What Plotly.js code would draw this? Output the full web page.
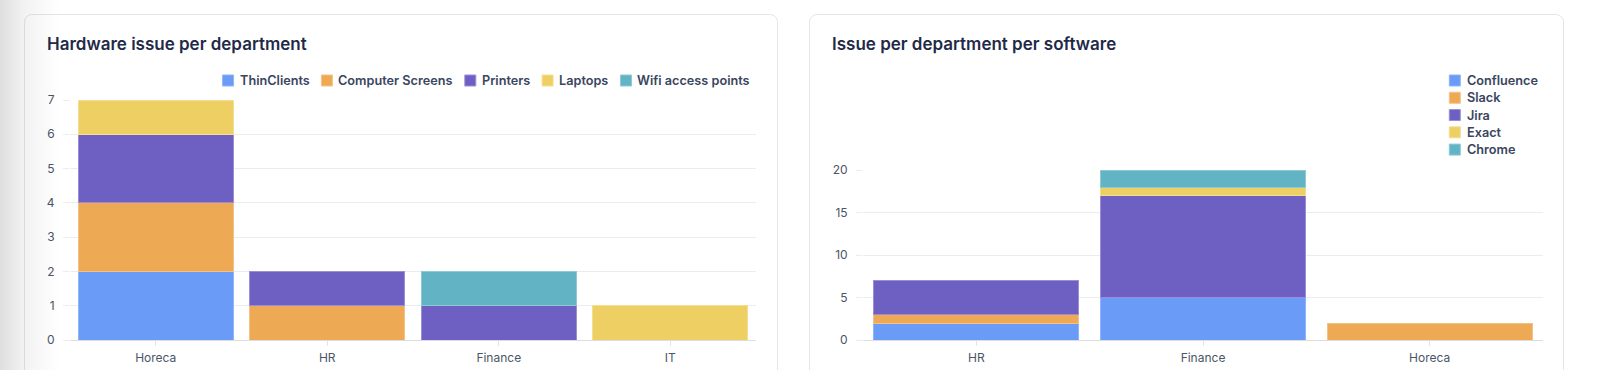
<!DOCTYPE html>
<html>
<head>
<meta charset="utf-8">
<script src="https://cdn.plot.ly/plotly-3.0.1.min.js"></script>
<style>
  html, body { margin: 0; padding: 0; background: #ffffff; width: 1618px; height: 370px; overflow: hidden; font-family: Inter, sans-serif; }
  .card { position: absolute; top: 14px; height: 380px; background: #ffffff; border: 1px solid #e4e6eb; border-radius: 8px; box-sizing: border-box; }
  #card1 { left: 24px; width: 754px; }
  #card2 { left: 809px; width: 755px; }
  .chart { position: absolute; top: 15px; height: 355px; }
  #hw { left: 25px; width: 752px; }
  #sw { left: 810px; width: 753px; }
  #shade { position: absolute; left: 0; top: 0; width: 70px; height: 370px; pointer-events: none;
    background: linear-gradient(to right, rgba(0,0,0,0.13) 0px, rgba(0,0,0,0.05) 24px, rgba(0,0,0,0.0) 60px); }
</style>
</head>
<body>
<div class="card" id="card1"></div>
<div class="card" id="card2"></div>
<div class="chart" id="hw"></div>
<div class="chart" id="sw"></div>
<div id="shade"></div>
<script>
// ---- Data: Hardware issue per department ----
const hwTitle = 'Hardware issue per department';
const hwDepartments = ['Horeca', 'HR', 'Finance', 'IT'];
const hwThinClients = [2, null, null, null];
const hwComputerScreens = [2, 1, null, null];
const hwPrinters = [2, 1, 1, null];
const hwLaptops = [1, null, null, 1];
const hwWifi = [null, null, 1, null];
const hwSeriesNames = ['ThinClients', 'Computer Screens', 'Printers', 'Laptops', 'Wifi access points'];

// ---- Data: Issue per department per software ----
const swTitle = 'Issue per department per software';
const swDepartments = ['HR', 'Finance', 'Horeca'];
const swConfluence = [2, 5, null];
const swSlack = [1, null, 2];
const swJira = [4, 12, null];
const swExact = [null, 1, null];
const swChrome = [null, 2, null];
const swSeriesNames = ['Confluence', 'Slack', 'Jira', 'Exact', 'Chrome'];

// ---- Styles ----
const colors = ['#699bf7', '#eda953', '#6e5fc2', '#eecf63', '#62b3c4'];
const borders = ['#8fb4f8', '#f3c286', '#9a8fd6', '#f4de92', '#8ccad6'];
const fontFamily = 'Inter, "Noto Sans", sans-serif';
const legendFontSize = 12.7;
const legendFont = { family: fontFamily, size: legendFontSize, color: '#3a4560', weight: 600 };
const gridColor = '#ebecef';

function makeTraces(x, seriesValues, names) {
  return seriesValues.map((vals, i) => ({
    type: 'bar',
    name: names[i],
    x: x,
    y: vals,
    marker: { color: colors[i], line: { color: borders[i], width: 1 } },
    hoverinfo: 'x+y+name'
  }));
}

function baseLayout(title, width, margin) {
  return {
    width: width,
    height: 355,
    barmode: 'stack',
    bargap: 0.096,
    showlegend: false,
    paper_bgcolor: 'rgba(0,0,0,0)',
    plot_bgcolor: 'rgba(0,0,0,0)',
    margin: margin,
    font: { family: fontFamily, size: 12, color: '#4b5567' },
    title: {
      text: title,
      x: 22 / width, xref: 'container', xanchor: 'left',
      y: 1 - 29 / 355, yref: 'container', yanchor: 'middle',
      font: { family: fontFamily, size: 17, color: '#1f2a48', weight: 600 }
    },
    xaxis: {
      type: 'category',
      showgrid: false,
      showline: true, linecolor: '#dcdde2', linewidth: 1,
      ticks: 'outside', ticklen: 5, tickcolor: '#e3e4e8', tickwidth: 1,
      ticklabelstandoff: 2,
      tickfont: { family: fontFamily, size: 12, color: '#4b5567' },
      fixedrange: true
    },
    yaxis: {
      showgrid: true, gridcolor: gridColor, gridwidth: 1,
      zeroline: false, showline: false,
      ticks: 'outside', ticklen: 6, tickcolor: gridColor, tickwidth: 1,
      ticklabelstandoff: 6,
      tickfont: { family: fontFamily, size: 12, color: '#4b5567' },
      fixedrange: true
    },
    shapes: [],
    annotations: []
  };
}

// Text width measurement for legend layout
const measureCtx = document.createElement('canvas').getContext('2d');
function textWidth(t) {
  measureCtx.font = '600 ' + legendFontSize + 'px Inter, "Noto Sans", sans-serif';
  return measureCtx.measureText(t).width;
}

// Legend drawn with layout shapes (swatches) and annotations (labels).
// items: array of {name, color, border, sx (swatch left px), tx (text left px), cy (center px)} in div pixels
function addLegend(layout, items) {
  const m = layout.margin;
  const pw = layout.width - m.l - m.r;
  const ph = layout.height - m.t - m.b;
  const px = v => (v - m.l) / pw;
  const py = v => 1 - (v - m.t) / ph;
  items.forEach(it => {
    layout.shapes.push({
      type: 'rect', xref: 'paper', yref: 'paper',
      xsizemode: 'pixel', ysizemode: 'pixel',
      xanchor: px(it.sx + 5.5), yanchor: py(it.cy),
      x0: -5.5, x1: 5.5, y0: -5.5, y1: 5.5,
      fillcolor: it.color, line: { color: it.border, width: 1 }, layer: 'above'
    });
    layout.annotations.push({
      text: it.name, xref: 'paper', yref: 'paper',
      x: px(it.tx - 1), y: py(it.cy), xanchor: 'left', yanchor: 'middle',
      showarrow: false, font: legendFont
    });
  });
}

// Chart 1
const hwTraces = makeTraces(hwDepartments, [hwThinClients, hwComputerScreens, hwPrinters, hwLaptops, hwWifi], hwSeriesNames);
const hwLayout = baseLayout(hwTitle, 752, { l: 45, r: 21, t: 85, b: 30, pad: 0 });
hwLayout.yaxis.range = [0, 7];
hwLayout.yaxis.dtick = 1;
(function () {
  const rightEdge = 724, cy = 65.5, sw = 11, g1 = 5, g2 = 13;
  const widths = hwSeriesNames.map(textWidth);
  let total = widths.reduce((a, b) => a + b, 0) + hwSeriesNames.length * (sw + g1) + (hwSeriesNames.length - 1) * g2;
  let x = rightEdge - total;
  const items = hwSeriesNames.map((n, i) => {
    const it = { name: n, color: colors[i], border: borders[i], sx: x, tx: x + sw + g1, cy: cy };
    x += sw + g1 + widths[i] + g2;
    return it;
  });
  addLegend(hwLayout, items);
})();
Plotly.newPlot('hw', hwTraces, hwLayout, { displayModeBar: false, responsive: false });

// Chart 2
const swTraces = makeTraces(swDepartments, [swConfluence, swSlack, swJira, swExact, swChrome], swSeriesNames);
const swLayout = baseLayout(swTitle, 753, { l: 53, r: 20, t: 155, b: 30, pad: 0 });
swLayout.yaxis.range = [0, 20];
swLayout.yaxis.dtick = 5;
(function () {
  const sx = 639.3, tx = 656, cy0 = 65.5, step = 17.27;
  const items = swSeriesNames.map((n, i) => ({ name: n, color: colors[i], border: borders[i], sx: sx, tx: tx, cy: cy0 + i * step }));
  addLegend(swLayout, items);
})();
Plotly.newPlot('sw', swTraces, swLayout, { displayModeBar: false, responsive: false });
</script>
</body>
</html>
